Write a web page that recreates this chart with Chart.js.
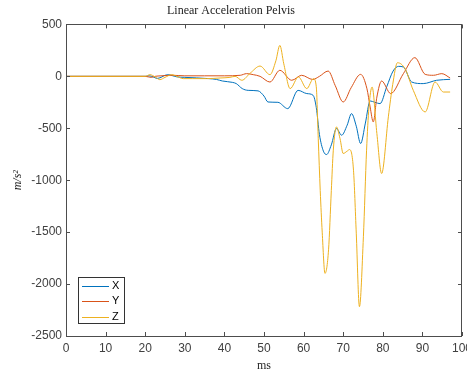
<!DOCTYPE html>
<html>
<head>
<meta charset="utf-8">
<title>Linear Acceleration Pelvis</title>
<script src="https://cdn.jsdelivr.net/npm/chart.js@4.4.0/dist/chart.umd.min.js"></script>
<style>
  html, body { margin: 0; padding: 0; background: #fff; }
  #wrap { width: 467px; height: 374px; }
</style>
</head>
<body>
<div id="wrap"><canvas id="pelvisChart" width="467" height="374"></canvas></div>
<script>
// Values (time in ms, acceleration in m/s^2)
const timeX = [0, 20, 21, 22, 23, 24, 25, 26, 27, 28, 30, 33, 36, 38, 39.5, 42, 43, 44.5, 46, 48.5, 50, 51, 53.5, 56, 58.6, 60.8, 62.4, 63.2, 64, 65, 65.8, 67, 68.3, 69.6, 71, 72.1, 73.3, 74.4, 75.6, 76.8, 78, 79.3, 81, 82.6, 84, 85.2, 87.3, 90.2, 93.6, 97];
const accX  = [0, 0, 5, -5, -20, -10, 10, 15, 5, -5, -10, -15, -22, -30, -45, -58, -70, -118, -135, -140, -190, -247, -250, -311, -135, -166, -183, -300, -560, -720, -753, -660, -503, -567, -470, -359, -480, -647, -450, -237, -250, -263, -100, 51, 96, 90, -55, -70, -38, -29];

const timeY = [0, 20, 21.5, 22.5, 24, 27, 30, 35, 40, 44, 45.6, 47.3, 49, 51.5, 54, 57, 59.5, 62.3, 64, 66.2, 68, 70, 72, 74.4, 76, 76.8, 77.6, 78.5, 79.7, 82, 85.2, 88.1, 90.7, 92.8, 94.9, 97];
const accY  = [0, 0, -10, 0, 5, 10, 5, 5, 5, 10, 26, 16, 0, -55, 58, -38, 10, -30, 0, 51, -90, -247, -110, 19, -120, -295, -439, -200, -45, -166, 26, 180, 19, 10, 26, -16];

const timeZ = [0, 20, 21.2, 22.5, 23.7, 25, 26.7, 28, 29.6, 32, 35.5, 38.9, 41.4, 42.7, 44.4, 46.5, 49, 51.5, 53, 54, 55, 56.6, 58.7, 60.8, 62.5, 63.2, 63.7, 64.2, 64.7, 65.4, 66.3, 67, 67.5, 68.3, 69.2, 70, 71, 71.6, 72.6, 73.3, 74.1, 75.1, 75.9, 76.5, 77.3, 78.5, 79.7, 81.4, 82.5, 83.7, 85.6, 87.7, 90.7, 93.2, 95.3, 97];
const accZ  = [0, 0, 16, -5, -32, -10, 16, 0, -22, -22, -22, -16, -10, 0, -38, 30, 99, 16, 150, 298, 120, -118, -6, -118, -22, -100, -600, -1100, -1500, -1897, -1670, -1100, -711, -487, -600, -743, -720, -705, -904, -1510, -2218, -1545, -711, -300, -103, -550, -936, -390, -80, 131, 74, -135, -343, -55, -151, -151];

const seriesNames  = ['X', 'Y', 'Z'];
const seriesColors = ['#0072BD', '#D95319', '#EDB120'];

const xTickValues = [0, 10, 20, 30, 40, 50, 60, 70, 80, 90, 100];
const yTickValues = [500, 0, -500, -1000, -1500, -2000, -2500];

const AXIS_COLOR = '#4d4d4d';
const LABEL_COLOR = '#404040';
const SANS = '"Liberation Sans", Arial, sans-serif';
const SERIF = '"Liberation Serif", "Times New Roman", serif';

function toPoints(times, values) {
    return times.map((t, i) => ({ x: t, y: values[i] }));
}

// MATLAB-style box with inward ticks on all four sides
const boxTicks = {
    id: 'boxTicks',
    afterDatasetsDraw(chart) {
        const { ctx, chartArea: a, scales: { x, y } } = chart;
        const len = 4;
        ctx.save();
        ctx.strokeStyle = AXIS_COLOR;
        ctx.lineWidth = 1;
        ctx.beginPath();
        xTickValues.forEach(v => {
            const px = Math.round(x.getPixelForValue(v)) + 0.5;
            ctx.moveTo(px, a.bottom); ctx.lineTo(px, a.bottom - len);
            ctx.moveTo(px, a.top); ctx.lineTo(px, a.top + len);
        });
        yTickValues.forEach(v => {
            const py = Math.round(y.getPixelForValue(v)) + 0.5;
            ctx.moveTo(a.left, py); ctx.lineTo(a.left + len, py);
            ctx.moveTo(a.right, py); ctx.lineTo(a.right - len, py);
        });
        ctx.stroke();
        ctx.strokeRect(Math.round(a.left) + 0.5, Math.round(a.top) + 0.5,
                       Math.round(a.right - a.left) - 1, Math.round(a.bottom - a.top));
        ctx.restore();
    }
};

// legend box in the lower left corner of the axes
const cornerLegend = {
    id: 'cornerLegend',
    afterDraw(chart) {
        const { ctx, chartArea: a } = chart;
        const left = a.left + 12, top = a.bottom - 59;
        const w = 46, h = 46;
        ctx.save();
        ctx.fillStyle = '#fff';
        ctx.fillRect(left, top, w, h);
        ctx.strokeStyle = '#333';
        ctx.lineWidth = 1;
        ctx.strokeRect(left + 0.5, top + 0.5, w, h);
        ctx.font = '11px ' + SANS;
        ctx.textBaseline = 'middle';
        seriesNames.forEach((name, i) => {
            const ly = top + 8.5 + i * 15.5;
            ctx.strokeStyle = seriesColors[i];
            ctx.beginPath();
            ctx.moveTo(left + 4, Math.round(ly) + 0.5);
            ctx.lineTo(left + 31, Math.round(ly) + 0.5);
            ctx.stroke();
            ctx.fillStyle = '#000';
            ctx.fillText(name, left + 34, ly);
        });
        ctx.restore();
    }
};

const datasets = [
    toPoints(timeX, accX),
    toPoints(timeY, accY),
    toPoints(timeZ, accZ)
].map((pts, i) => ({
    label: seriesNames[i],
    data: pts,
    borderColor: seriesColors[i],
    backgroundColor: seriesColors[i],
    borderWidth: 1,
    pointRadius: 0,
    fill: false,
    cubicInterpolationMode: 'monotone',
    order: 2 - i
}));

new Chart(document.getElementById('pelvisChart'), {
    type: 'line',
    data: { datasets: datasets },
    options: {
        responsive: false,
        animation: false,
        devicePixelRatio: 1,
        layout: { padding: { left: 0, right: 5, top: 0, bottom: 0 } },
        plugins: {
            legend: { display: false },
            tooltip: { enabled: false },
            title: {
                display: true,
                text: 'Linear Acceleration Pelvis',
                color: '#222',
                font: { family: SERIF, size: 12, weight: 'normal' },
                padding: { top: 4, bottom: 6 }
            }
        },
        scales: {
            x: {
                type: 'linear',
                min: 0,
                max: 100,
                afterBuildTicks: s => { s.ticks = xTickValues.map(v => ({ value: v })); },
                afterFit: s => { s.height = 38; s.paddingLeft = 0; s.paddingRight = 0; },
                grid: { display: false, drawTicks: false },
                border: { display: false },
                ticks: {
                    color: LABEL_COLOR,
                    font: { family: SANS, size: 12 },
                    padding: 5,
                    maxRotation: 0,
                    callback: v => String(v)
                },
                title: {
                    display: true,
                    text: 'ms',
                    color: '#222',
                    font: { family: SERIF, size: 12 },
                    padding: { top: 0, bottom: 1 }
                }
            },
            y: {
                min: -2500,
                max: 500,
                afterBuildTicks: s => { s.ticks = yTickValues.map(v => ({ value: v })); },
                afterFit: s => { s.width = 66; s.paddingTop = 0; s.paddingBottom = 0; },
                grid: { display: false, drawTicks: false },
                border: { display: false },
                ticks: {
                    color: LABEL_COLOR,
                    font: { family: SANS, size: 12 },
                    padding: 4,
                    callback: v => String(v)
                },
                title: {
                    display: true,
                    text: 'm/s\u00B2',
                    color: '#222',
                    font: { family: SERIF, size: 12, style: 'italic' },
                    padding: { top: 11, bottom: 0 }
                }
            }
        }
    },
    plugins: [boxTicks, cornerLegend]
});
</script>
</body>
</html>
